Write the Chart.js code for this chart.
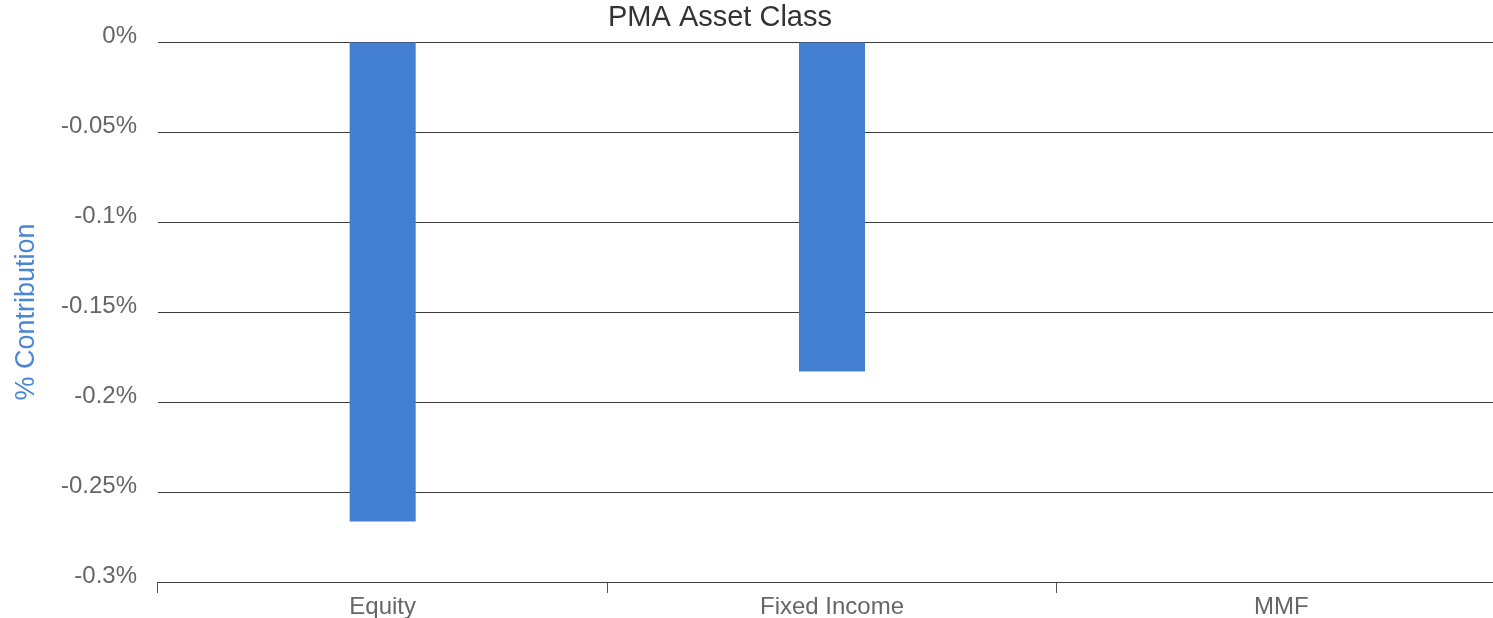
<!DOCTYPE html>
<html>
<head>
<meta charset="utf-8">
<title>PMA Asset Class</title>
<script src="https://cdn.jsdelivr.net/npm/chart.js@4/dist/chart.umd.min.js"></script>
<style>
    html, body { margin: 0; padding: 0; background: #fff; overflow: hidden; }
    #wrap { width: 1506px; height: 618px; }
</style>
</head>
<body>
<div id="wrap"><canvas id="assetChart" width="1506" height="618"></canvas></div>
<script>
// PMA asset class contribution chart

const categories = ['Equity', 'Fixed Income', 'MMF'];
const contribution = [-0.2664, -0.1831, 0];
const yTicks = { min: -0.3, max: 0, step: 0.05 };
const chartTitle = 'PMA Asset Class';
const yAxisTitle = '% Contribution';

const FONT = '"Liberation Sans", Arial, sans-serif';

// title sits left of canvas centre in the original, so draw it ourselves
const titlePlugin = {
    id: 'offsetTitle',
    afterDraw(chart) {
        const c = chart.ctx;
        c.save();
        c.font = '29px ' + FONT;
        c.fillStyle = '#333';
        c.textAlign = 'center';
        c.textBaseline = 'middle';
        c.fillText(chartTitle, 720, 18);
        c.restore();
    }
};

const ctx = document.getElementById('assetChart');

new Chart(ctx, {
    type: 'bar',
    data: {
        labels: categories,
        datasets: [{
            label: yAxisTitle,
            data: contribution,
            backgroundColor: '#4380d2',
            borderWidth: 0,
            categoryPercentage: 1,
            barPercentage: 0.147
        }]
    },
    options: {
        responsive: false,
        animation: false,
        layout: { padding: { top: 42, left: 0, right: 0, bottom: 0 } },
        plugins: {
            legend: { display: false },
            tooltip: { enabled: false }
        },
        scales: {
            x: {
                offset: true,
                border: { display: false },
                grid: {
                    offset: true,
                    drawOnChartArea: false,
                    drawTicks: true,
                    tickLength: 11,
                    color: '#555'
                },
                ticks: {
                    color: '#666',
                    font: { family: FONT, size: 24 },
                    padding: 0,
                    maxRotation: 0
                },
                afterFit: s => { s.height = 36; }
            },
            y: {
                min: yTicks.min,
                max: yTicks.max,
                border: { display: false },
                grid: {
                    color: '#3c3c3c',
                    drawTicks: false
                },
                ticks: {
                    stepSize: yTicks.step,
                    color: '#666',
                    font: { family: FONT, size: 24 },
                    padding: 21,
                    labelOffset: -6,
                    callback: v => (Math.round(v * 100) / 100) + '%'
                },
                title: {
                    display: true,
                    text: yAxisTitle,
                    color: '#4a86d4',
                    font: { family: FONT, size: 27 },
                    padding: { top: 10, bottom: 0 }
                },
                afterFit: s => { s.width = 158; }
            }
        }
    },
    plugins: [titlePlugin]
});
</script>
</body>
</html>
